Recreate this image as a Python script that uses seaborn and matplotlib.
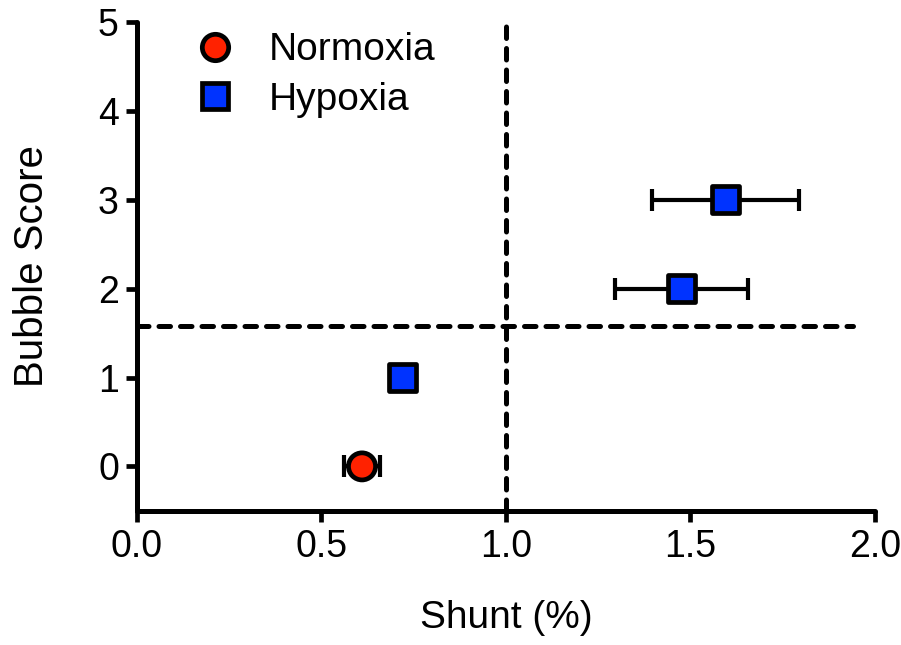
import pandas as pd
import matplotlib
matplotlib.use("Agg")
import matplotlib.pyplot as plt
from matplotlib.lines import Line2D
import seaborn as sns

# --- Data ---
conditions = ["Normoxia", "Hypoxia", "Hypoxia", "Hypoxia"]
shunt = [0.61, 0.72, 1.475, 1.595]
shunt_err = [0.05, 0.0, 0.18, 0.20]
bubble_score = [0, 1, 2, 3]

THRESHOLD_SHUNT = 1.0
THRESHOLD_SCORE = 1.58
HLINE_END = 1.94

COLORS = {"Normoxia": "#FF2200", "Hypoxia": "#0033FF"}
MARKERS = {"Normoxia": "o", "Hypoxia": "s"}

df = pd.DataFrame({"Condition": conditions, "Shunt": shunt,
                   "Err": shunt_err, "Score": bubble_score})

sns.set_theme(style="ticks")
plt.rcParams["font.family"] = ["Liberation Sans", "DejaVu Sans"]
plt.rcParams["text.color"] = "black"
plt.rcParams["axes.labelcolor"] = "black"
plt.rcParams["xtick.color"] = "black"
plt.rcParams["ytick.color"] = "black"

fig = plt.figure(figsize=(9.01, 6.45), dpi=100)
ax = fig.add_axes([0.152, 0.208, 0.819, 0.758])

# reference lines
ax.axvline(THRESHOLD_SHUNT, ymin=0, ymax=1.005, color="black", lw=3.6,
           ls=(0, (2.3, 2.0)), dash_capstyle="round", clip_on=False, zorder=1)
ax.plot([0, HLINE_END], [THRESHOLD_SCORE, THRESHOLD_SCORE], color="black", lw=3.6,
        ls=(0, (2.3, 2.0)), dash_capstyle="round", zorder=1)

# error bars
for _, r in df.iterrows():
    if r["Err"] > 0:
        ax.errorbar(r["Shunt"], r["Score"], xerr=r["Err"], fmt="none",
                    ecolor="black", elinewidth=3.0, capsize=8, capthick=3.0, zorder=2)

sns.scatterplot(data=df, x="Shunt", y="Score", hue="Condition", style="Condition",
                palette=COLORS, markers=MARKERS, s=380, edgecolor="black",
                linewidth=3.4, legend=False, zorder=3, ax=ax, clip_on=False)

ax.set_xlim(0, 2.0)
ax.set_ylim(-0.5, 5)
ax.set_xticks([0.0, 0.5, 1.0, 1.5, 2.0])
ax.set_xticklabels(["0.0", "0.5", "1.0", "1.5", "2.0"])
ax.set_yticks([0, 1, 2, 3, 4, 5])
ax.set_xlabel("Shunt (%)", fontsize=28, labelpad=25)
ax.set_ylabel("Bubble Score", fontsize=29, labelpad=34)
ax.tick_params(axis="both", labelsize=27, width=3.4, length=8, pad=5)

sns.despine(ax=ax)
for side in ["left", "bottom"]:
    ax.spines[side].set_linewidth(3.6)
    ax.spines[side].set_color("black")
    ax.spines[side].set_capstyle("round")

handles = [Line2D([], [], ls="none", marker=MARKERS[c], markersize=19,
                  markerfacecolor=COLORS[c], markeredgecolor="black",
                  markeredgewidth=3.4, label=c) for c in ["Normoxia", "Hypoxia"]]
ax.legend(handles=handles, loc="upper left", bbox_to_anchor=(0.005, 1.05),
          frameon=False, fontsize=28, handletextpad=0.4, labelspacing=0.35)

fig.savefig("out.png", dpi=100)
